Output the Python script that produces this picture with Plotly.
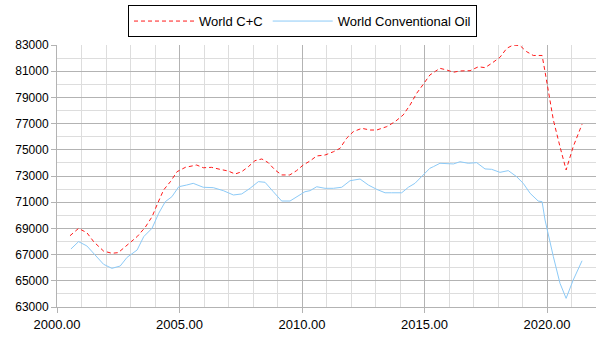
import plotly.graph_objects as go

# World crude + condensate (kb/d), centred 12-month average
cc_years = [2000.53, 2000.88, 2001.22, 2001.5, 2001.9, 2002.24, 2002.5, 2002.86,
            2003.27, 2003.6, 2003.88, 2004.08, 2004.35, 2004.63, 2004.9, 2005.24,
            2005.7, 2005.97, 2006.31, 2006.65, 2006.99, 2007.27, 2007.54, 2007.81,
            2008.08, 2008.36, 2008.62, 2008.9, 2009.17, 2009.5, 2009.78, 2010.05,
            2010.33, 2010.6, 2010.94, 2011.28, 2011.55, 2011.82, 2012.09, 2012.44,
            2012.78, 2013.05, 2013.46, 2013.8, 2014.13, 2014.41, 2014.68, 2014.95,
            2015.22, 2015.45, 2015.63, 2015.91, 2016.18, 2016.45, 2016.86, 2017.2,
            2017.47, 2017.74, 2018.08, 2018.36, 2018.62, 2018.9, 2019.17, 2019.44,
            2019.8, 2019.92, 2020.26, 2020.53, 2020.78, 2021.07, 2021.43]
cc_values = [68440, 69000, 68670, 67980, 67270, 67100, 67150, 67730,
             68370, 69080, 69890, 70790, 71930, 72570, 73330, 73660,
             73840, 73630, 73660, 73510, 73380, 73150, 73330, 73710,
             74170, 74300, 74020, 73460, 73080, 73080, 73410, 73840,
             74150, 74530, 74600, 74850, 75110, 75880, 76380, 76640,
             76510, 76510, 76770, 77150, 77660, 78420, 79310, 80000,
             80710, 81000, 81220, 81090, 80920, 81020, 81040, 81340,
             81270, 81600, 82060, 82750, 83000, 82950, 82490, 82200,
             82200, 80960, 77270, 75240, 73460, 75240, 76950]

# World conventional oil (kb/d)
conv_years = [2000.57, 2000.88, 2001.22, 2001.56, 2001.9, 2002.24, 2002.58, 2002.86,
              2003.27, 2003.54, 2003.88, 2004.15, 2004.42, 2004.69, 2004.97, 2005.29,
              2005.56, 2005.97, 2006.38, 2006.79, 2007.2, 2007.54, 2007.88, 2008.22,
              2008.49, 2008.83, 2009.17, 2009.51, 2009.78, 2010.12, 2010.33, 2010.6,
              2010.94, 2011.28, 2011.62, 2011.96, 2012.37, 2012.71, 2013.05, 2013.39,
              2013.66, 2014.07, 2014.34, 2014.61, 2014.88, 2015.22, 2015.36, 2015.63,
              2016.18, 2016.45, 2016.79, 2017.13, 2017.47, 2017.74, 2018.08, 2018.42,
              2018.76, 2019.03, 2019.31, 2019.64, 2019.8, 2019.92, 2020.26, 2020.53,
              2020.78, 2021.07, 2021.43]
conv_values = [67430, 67990, 67660, 66970, 66260, 65950, 66130, 66790,
               67350, 68370, 69010, 70150, 71040, 71420, 72180, 72310,
               72440, 72140, 72110, 71880, 71550, 71630, 72060, 72570,
               72520, 71800, 71090, 71090, 71420, 71800, 71880, 72180,
               72060, 72060, 72140, 72640, 72770, 72310, 71980, 71720,
               71720, 71720, 72140, 72440, 72950, 73590, 73710, 73970,
               73920, 74090, 73970, 74020, 73540, 73510, 73280, 73410,
               72950, 72440, 71680, 71090, 71040, 69640, 66840, 64810,
               63660, 65060, 66530]

fig = go.Figure()
fig.add_trace(go.Scatter(
    x=cc_years, y=cc_values, mode="lines", name="World C+C",
    line=dict(color="#ff1a1a", width=1, dash="4px,3px"),
))
fig.add_trace(go.Scatter(
    x=conv_years, y=conv_values, mode="lines", name="World Conventional Oil",
    line=dict(color="#8ccaf7", width=1),
))

font = "Liberation Sans, Arial, sans-serif"
fig.update_layout(
    width=605, height=340,
    margin=dict(l=57, r=9, t=45, b=33, autoexpand=False),
    paper_bgcolor="white", plot_bgcolor="white",
    font=dict(family=font, size=13, color="#000000"),
    showlegend=True,
    legend=dict(
        orientation="h", xref="container", yref="container",
        x=0.5, xanchor="center", y=0.985, yanchor="top",
        bordercolor="#000000", borderwidth=1, bgcolor="white",
        font=dict(family=font, size=13, color="#000000"),
        itemwidth=60, tracegroupgap=0,
    ),
    xaxis=dict(
        range=[2000, 2022], tick0=2000, dtick=5, tickformat=".2f",
        showgrid=True, gridcolor="#b3b3b3", gridwidth=1,
        minor=dict(dtick=1, showgrid=True, gridcolor="#dddddd", gridwidth=1),
        showline=True, linecolor="#b3b3b3", linewidth=1,
        ticks="outside", ticklen=5, tickcolor="#b3b3b3",
        zeroline=False, tickfont=dict(size=13), automargin=False,
    ),
    yaxis=dict(
        range=[63000, 83000], tick0=63000, dtick=2000, tickformat="d",
        showgrid=True, gridcolor="#b3b3b3", gridwidth=1,
        minor=dict(dtick=1000, showgrid=True, gridcolor="#dddddd", gridwidth=1),
        showline=True, linecolor="#b3b3b3", linewidth=1,
        ticks="outside", ticklen=5, tickcolor="#b3b3b3",
        zeroline=False, tickfont=dict(size=12), automargin=False,
    ),
)

fig.write_html("out.html")
